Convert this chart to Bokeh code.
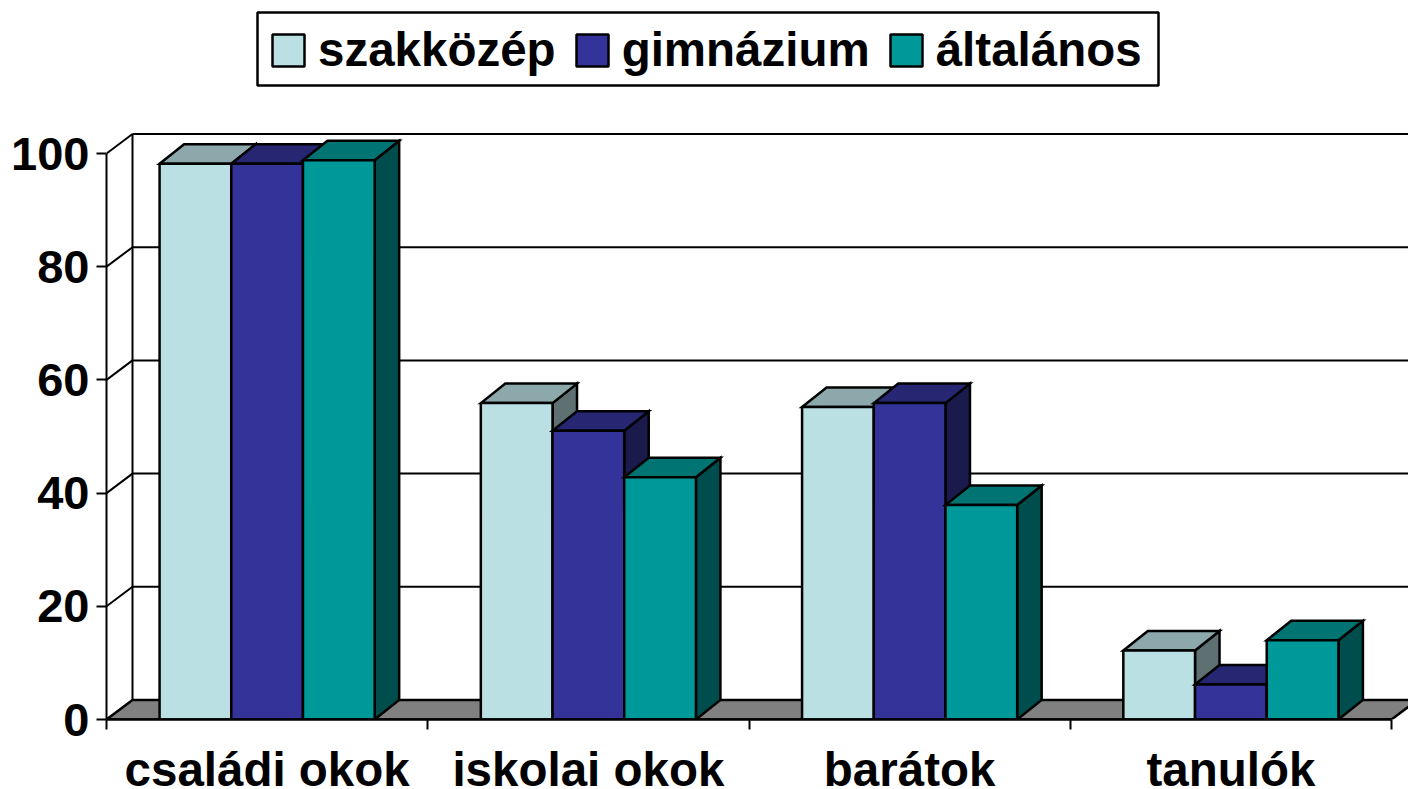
from bokeh.plotting import figure
from bokeh.models import Range1d, LinearAxis, FixedTicker, Legend, LegendItem, BoxAnnotation
from bokeh.embed import file_html
from bokeh.resources import INLINE

categories = ["családi okok", "iskolai okok", "barátok", "tanulók"]
series_names = ["szakközép", "gimnázium", "általános"]
szakkozep = [98.2, 55.9, 55.2, 12.2]
gimnazium = [98.2, 51.0, 55.9, 6.2]
altalanos = [98.8, 42.8, 37.9, 14.0]
y_ticks = [0, 20, 40, 60, 80, 100]

front_colors = ["#BBE0E3", "#333399", "#009999"]
top_colors = ["#8CA8AA", "#262673", "#007373"]
side_colors = ["#5E7072", "#1A1A4D", "#004D4D"]

FRAME_W, FRAME_H = 1302, 719
PX_X, PX_Y = 321.25, 5.66
BAR_W = 71.7 / PX_X
WALL_DX, WALL_DY = 26 / PX_X, 19.5 / PX_Y
BAR_DX, BAR_DY = 24.5 / PX_X, 19.5 / PX_Y
FONT = "Liberation Sans"

p = figure(width=1408, height=789, output_backend="svg", toolbar_location=None,
           x_axis_location=None, y_axis_location=None,
           x_range=Range1d(0, FRAME_W / PX_X), y_range=Range1d(0, FRAME_H / PX_Y),
           min_border_left=106, min_border_right=0, min_border_top=0, min_border_bottom=70,
           frame_width=FRAME_W, frame_height=FRAME_H,
           outline_line_color=None, background_fill_color="white")
p.grid.visible = False

n = len(categories)
far_right = FRAME_W / PX_X + 1
p.patch([0, WALL_DX, n + WALL_DX, n], [0, WALL_DY, WALL_DY, 0],
        fill_color="#808080", line_color="black", line_width=2.5)
p.multi_line([[WALL_DX, far_right] for t in y_ticks[1:]],
             [[t + WALL_DY, t + WALL_DY] for t in y_ticks[1:]],
             line_color="black", line_width=2)
p.multi_line([[0, WALL_DX] for t in y_ticks[1:]],
             [[t, t + WALL_DY] for t in y_ticks[1:]],
             line_color="black", line_width=2)
p.line([WALL_DX, WALL_DX], [WALL_DY, y_ticks[-1] + WALL_DY], line_color="black", line_width=2)

legend_items = []
for j, vals in enumerate([szakkozep, gimnazium, altalanos]):
    lefts = [i + 0.5 + (j - 1.5) * BAR_W for i in range(n)]
    rights = [x + BAR_W for x in lefts]
    p.patches([[r, r + BAR_DX, r + BAR_DX, r] for r in rights],
              [[0, BAR_DY, v + BAR_DY, v] for v in vals],
              fill_color=side_colors[j], line_color="black", line_width=2.5, line_join="miter")
    p.patches([[l, l + BAR_DX, r + BAR_DX, r] for l, r in zip(lefts, rights)],
              [[v, v + BAR_DY, v + BAR_DY, v] for v in vals],
              fill_color=top_colors[j], line_color="black", line_width=2.5, line_join="miter")
    r = p.quad(left=lefts, right=rights, bottom=[0] * n, top=vals,
               fill_color=front_colors[j], line_color="black", line_width=2.5)
    legend_items.append(LegendItem(label=series_names[j], renderers=[r]))

yaxis = LinearAxis(bounds=(0, 100), ticker=FixedTicker(ticks=y_ticks),
                   axis_line_color="black", axis_line_width=2,
                   major_tick_line_color="black", major_tick_line_width=2,
                   major_tick_in=0, major_tick_out=10, minor_tick_in=0, minor_tick_out=0,
                   major_label_text_font=FONT, major_label_text_font_style="bold",
                   major_label_text_font_size="47px", major_label_text_color="black",
                   major_label_standoff=7)
p.add_layout(yaxis, "left")

label_pos = [i + 0.5 for i in range(n)]
xaxis = LinearAxis(bounds=(0, n),
                   ticker=FixedTicker(ticks=label_pos, minor_ticks=list(range(n + 1))),
                   major_label_overrides={x: c for x, c in zip(label_pos, categories)},
                   axis_line_color="black", axis_line_width=2.5,
                   major_tick_in=0, major_tick_out=0,
                   minor_tick_line_color="black", minor_tick_line_width=2,
                   minor_tick_in=0, minor_tick_out=10,
                   major_label_text_font=FONT, major_label_text_font_style="bold",
                   major_label_text_font_size="47.5px", major_label_text_color="black",
                   major_label_standoff=13)
p.add_layout(xaxis, "below")

legend_box = BoxAnnotation(left=151, right=1052, top=707, bottom=634,
                           left_units="screen", right_units="screen",
                           top_units="screen", bottom_units="screen",
                           fill_color="white", fill_alpha=1,
                           line_color="black", line_alpha=1, line_width=2.5)
p.add_layout(legend_box)

legend = Legend(items=legend_items, orientation="horizontal", location=(162, 642),
                border_line_color=None, background_fill_alpha=0,
                margin=0, padding=15, spacing=16,
                glyph_width=40, glyph_height=40, label_standoff=10,
                label_text_font=FONT, label_text_font_style="bold",
                label_text_font_size="47.5px", label_text_color="black")
p.add_layout(legend, "center")

open("out.html", "w").write(file_html(p, INLINE))
